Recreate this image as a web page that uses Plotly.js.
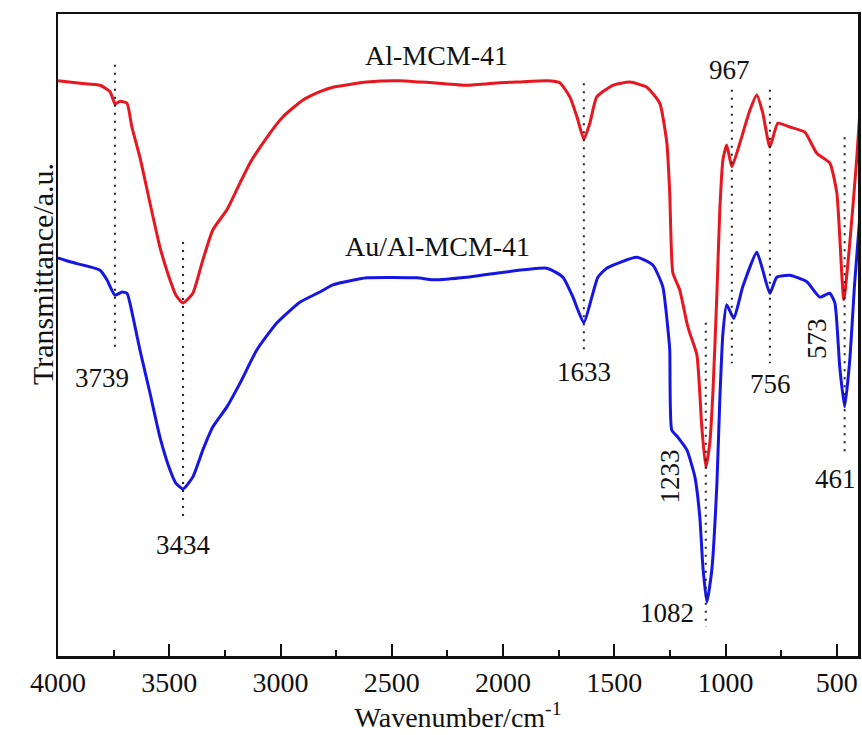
<!DOCTYPE html>
<html>
<head>
<meta charset="utf-8">
<script src="https://cdn.plot.ly/plotly-3.0.1.min.js"></script>
<style>
  html, body { margin: 0; padding: 0; background: #fff; }
  #chart { width: 862px; height: 735px; }
  #chart .xtick text, #chart .g-xtitle text, #chart .annotation text {
    font-family: 'Liberation Serif', serif !important;
  }
</style>
</head>
<body>
<div id="chart"></div>
<script>
// ---- Data ----
const alWavenumber = [4000, 3900, 3811, 3766, 3744, 3721, 3690, 3668, 3632, 3587, 3542, 3497, 3470, 3438, 3394, 3349, 3304, 3241, 3182, 3137, 3061, 2989, 2899, 2823, 2765, 2612, 2464, 2374, 2315, 2163, 2014, 1938, 1803, 1745, 1700, 1668, 1637, 1610, 1579, 1507, 1430, 1354, 1296, 1264, 1251, 1237, 1206, 1174, 1161, 1129, 1107, 1089, 1071, 1057, 1039, 1026, 1012, 995, 972, 936, 891, 860, 833, 801, 765, 712, 644, 590, 532, 500, 469, 442, 411, 398];
const alTransmittance = [89.6, 89.2, 88.9, 87.9, 86.0, 86.4, 86.1, 82.4, 77.7, 70.6, 63.7, 58.6, 56.2, 55.0, 56.5, 61.7, 66.4, 69.5, 73.7, 76.8, 80.8, 84.0, 86.6, 87.9, 88.6, 89.4, 89.6, 89.4, 89.3, 88.9, 89.3, 89.4, 89.6, 89.3, 87.1, 84.0, 80.5, 83.0, 87.1, 88.9, 89.4, 88.6, 86.1, 79.9, 72.1, 59.7, 57.0, 51.9, 50.3, 46.9, 35.7, 29.4, 33.2, 41.0, 56.5, 69.5, 77.3, 79.6, 76.2, 79.9, 85.0, 87.4, 84.6, 79.3, 83.0, 82.4, 81.6, 78.3, 76.8, 72.1, 55.5, 64.3, 77.3, 84.0];

const auWavenumber = [4000, 3946, 3811, 3780, 3744, 3712, 3690, 3663, 3632, 3587, 3542, 3497, 3470, 3438, 3394, 3349, 3304, 3241, 3182, 3106, 3016, 2913, 2823, 2765, 2612, 2387, 2315, 2163, 2014, 1803, 1731, 1686, 1637, 1601, 1574, 1534, 1399, 1327, 1282, 1260, 1251, 1242, 1215, 1174, 1138, 1116, 1102, 1084, 1062, 1039, 1026, 1012, 995, 963, 923, 860, 833, 801, 770, 712, 635, 577, 532, 509, 487, 465, 442, 420, 398];
const auTransmittance = [62.0, 61.4, 60.1, 58.6, 56.2, 56.7, 56.5, 52.8, 47.7, 41.0, 34.1, 29.0, 26.9, 26.0, 27.9, 32.1, 35.7, 38.8, 42.5, 47.7, 51.9, 55.1, 56.7, 57.8, 58.9, 58.9, 58.6, 59.0, 59.7, 60.4, 59.0, 55.9, 51.9, 55.9, 59.0, 60.4, 62.1, 60.9, 57.5, 51.2, 47.7, 35.2, 34.1, 32.1, 27.9, 21.7, 13.9, 8.4, 13.4, 26.9, 39.9, 50.3, 54.7, 52.6, 57.5, 62.9, 60.1, 56.5, 59.0, 59.3, 58.3, 55.9, 56.5, 55.0, 45.0, 38.8, 46.1, 58.1, 67.9];

// peak marker lines: wavenumber, upper and lower end (a.u.)
const peakLineWn = [3744, 3438, 1637, 1089, 972, 801, 465];
const peakLineTop = [92.1, 64.5, 89.2, 51.9, 88.2, 88.2, 80.8];
const peakLineBottom = [47.7, 21.7, 47.3, 4.5, 45.6, 45.6, 31.0];

// peak labels
const peakLabels = ["3739", "3434", "1633", "1082", "1233", "967", "756", "461", "573"];
const peakLabelWn = [3802, 3438, 1637, 1264, 1251, 981, 798, 505, 590];
const peakLabelY = [43.3, 17.3, 44.2, 6.7, 27.9, 91.3, 42.4, 27.6, 49.5];
const peakLabelAngle = [0, 0, 0, 0, -90, 0, 0, 0, -90];

// series labels
const seriesNames = ["Al-MCM-41", "Au/Al-MCM-41"];
const seriesLabelWn = [2297, 2293];
const seriesLabelY = [93.6, 63.8];

// tick values
const xTickVals = [4000, 3500, 3000, 2500, 2000, 1500, 1000, 500];

// ---- Build figure ----
const FONT = "Liberation Serif, serif";
const traces = [
  { x: alWavenumber, y: alTransmittance, mode: "lines", name: seriesNames[0],
    line: { color: "rgb(232,22,30)", width: 3, shape: "spline", smoothing: 0.5 } },
  { x: auWavenumber, y: auTransmittance, mode: "lines", name: seriesNames[1],
    line: { color: "rgb(22,22,228)", width: 3, shape: "spline", smoothing: 0.5 } }
];
peakLineWn.forEach((wn, i) => {
  traces.push({ x: [wn, wn], y: [peakLineTop[i], peakLineBottom[i]], mode: "lines",
    line: { color: "#222", width: 2, dash: "2px,6px" }, hoverinfo: "skip" });
});

const annotations = [];
peakLabels.forEach((t, i) => {
  annotations.push({ x: peakLabelWn[i], y: peakLabelY[i], xref: "x", yref: "y", text: t,
    showarrow: false, textangle: peakLabelAngle[i], font: { family: FONT, size: 27, color: "#111" } });
});
seriesNames.forEach((t, i) => {
  annotations.push({ x: seriesLabelWn[i], y: seriesLabelY[i], xref: "x", yref: "y", text: t,
    showarrow: false, font: { family: FONT, size: 28, color: "#111" } });
});
// y-axis title (placed like the reference, above the plot centre)
annotations.push({ x: -0.043, y: 0.595, xref: "paper", yref: "paper", text: "Transmittance/a.u.",
  showarrow: false, textangle: -90, font: { family: FONT, size: 30, color: "#111" } });

const layout = {
  width: 862, height: 735,
  margin: { l: 58, r: 4, t: 14, b: 79 },
  paper_bgcolor: "#fff", plot_bgcolor: "#fff",
  showlegend: false,
  font: { family: FONT, size: 28, color: "#111" },
  xaxis: {
    range: [4000, 405], tickvals: xTickVals, ticktext: xTickVals.map(String),
    ticks: "inside", ticklen: 12, tickwidth: 2, tickcolor: "#111",
    minor: { ticks: "inside", ticklen: 6, tickwidth: 2, tickcolor: "#111", dtick: 250, tick0: 0, showgrid: false },
    showline: true, linewidth: 2.5, linecolor: "#111", mirror: true,
    showgrid: false, zeroline: false,
    tickfont: { family: FONT, size: 28, color: "#111" },
    title: { text: "Wavenumber/cm<sup>-1</sup>", font: { family: FONT, size: 28, color: "#111" }, standoff: 8 }
  },
  yaxis: {
    range: [0, 100], showticklabels: false, ticks: "",
    showline: true, linewidth: 2.5, linecolor: "#111", mirror: true,
    showgrid: false, zeroline: false
  },
  annotations: annotations
};

Plotly.newPlot("chart", traces, layout, { displayModeBar: false, staticPlot: true });
</script>
</body>
</html>
